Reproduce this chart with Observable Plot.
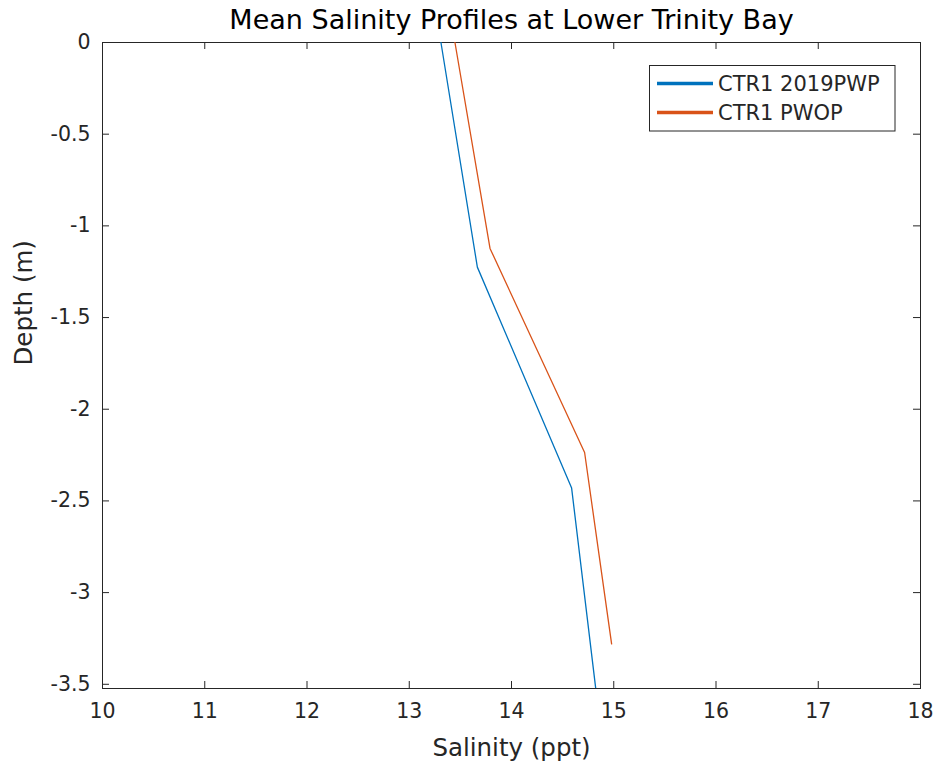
<!DOCTYPE html>
<html>
<head>
<meta charset="utf-8">
<script src="https://cdn.jsdelivr.net/npm/d3@7"></script>
<script src="https://cdn.jsdelivr.net/npm/@observablehq/plot@0.6"></script>
<style>
  html, body { margin: 0; padding: 0; background: #fff; }
  #chart { width: 938px; height: 767px; }
</style>
</head>
<body>
<div id="chart"></div>
<script>
// ---- data ----
const seriesNames = ["CTR1 2019PWP", "CTR1 PWOP"];
const seriesColors = ["#0072BD", "#D95319"];
const salinity2019PWP = [13.31, 13.666, 14.588, 14.823];
const depth2019PWP    = [0, -1.225, -2.43, -3.52];
const salinityPWOP    = [13.447, 13.79, 14.715, 14.979];
const depthPWOP       = [0, -1.123, -2.236, -3.28];
const xTicks = [10, 11, 12, 13, 14, 15, 16, 17, 18];
const yTicks = [0, -0.5, -1, -1.5, -2, -2.5, -3, -3.5];
const titleText = "Mean Salinity Profiles at Lower Trinity Bay";
const xLabel = "Salinity (ppt)";
const yLabel = "Depth (m)";

const rows = [
  ...salinity2019PWP.map((s, i) => ({series: seriesNames[0], salinity: s, depth: depth2019PWP[i]})),
  ...salinityPWOP.map((s, i) => ({series: seriesNames[1], salinity: s, depth: depthPWOP[i]}))
];

const W = 938, H = 767;
const mL = 102, mR = 18, mT = 42, mB = 79;
const innerW = W - mL - mR, innerH = H - mT - mB;
const tickLen = 7;
const axisColor = "#262626";
const font = "DejaVu Sans";

const plot = Plot.plot({
  width: W,
  height: H,
  marginLeft: mL, marginRight: mR, marginTop: mT, marginBottom: mB,
  style: {fontFamily: font, color: axisColor, background: "#fff"},
  x: {domain: [10, 18]},
  y: {domain: [-3.523, 0]},
  color: {domain: seriesNames, range: seriesColors},
  marks: [
    Plot.frame({stroke: axisColor, strokeWidth: 1}),
    // inside ticks on all four sides
    Plot.tickX(xTicks, {x: d => d, insetTop: innerH - tickLen, stroke: axisColor}),
    Plot.tickX(xTicks, {x: d => d, insetBottom: innerH - tickLen, stroke: axisColor}),
    Plot.tickY(yTicks, {y: d => d, insetRight: innerW - tickLen, stroke: axisColor}),
    Plot.tickY(yTicks, {y: d => d, insetLeft: innerW - tickLen, stroke: axisColor}),
    Plot.axisX({ticks: xTicks, tickSize: 0, tickPadding: 15, fontSize: 20.5, label: null, tickFormat: d => String(d)}),
    Plot.axisY({ticks: yTicks, tickSize: 0, tickPadding: 12, fontSize: 20.5, label: null, tickFormat: d => String(d)}),
    Plot.line(rows, {x: "salinity", y: "depth", z: "series", stroke: "series", strokeWidth: 1.3, clip: true}),
    Plot.text([titleText], {frameAnchor: "top", dy: -22, fontSize: 27, fill: "#000", lineAnchor: "middle"}),
    Plot.text([xLabel], {frameAnchor: "bottom", dy: 60, fontSize: 24.5, fill: axisColor, lineAnchor: "middle"}),
    Plot.text([yLabel], {frameAnchor: "left", dx: -78, rotate: -90, fontSize: 24.5, fill: axisColor, lineAnchor: "middle"})
  ]
});

document.getElementById("chart").appendChild(plot);

// legend box (MATLAB-style, inside the axes at top-right)
const svg = d3.select(plot);
const lg = svg.append("g").attr("font-family", font).attr("text-anchor", "start");
lg.append("rect")
  .attr("x", 649.5).attr("y", 65.5).attr("width", 245.5).attr("height", 65.5)
  .attr("fill", "#fff").attr("stroke", axisColor).attr("stroke-width", 1);
seriesNames.forEach((name, i) => {
  const yy = 83.5 + i * 29;
  lg.append("line").attr("x1", 657).attr("x2", 713).attr("y1", yy).attr("y2", yy)
    .attr("stroke", seriesColors[i]).attr("stroke-width", 3.5);
  lg.append("text").attr("x", 718).attr("y", yy).attr("dy", "0.36em")
    .attr("text-anchor", "start")
    .attr("font-size", 21).attr("fill", axisColor).text(name);
});
</script>
</body>
</html>
